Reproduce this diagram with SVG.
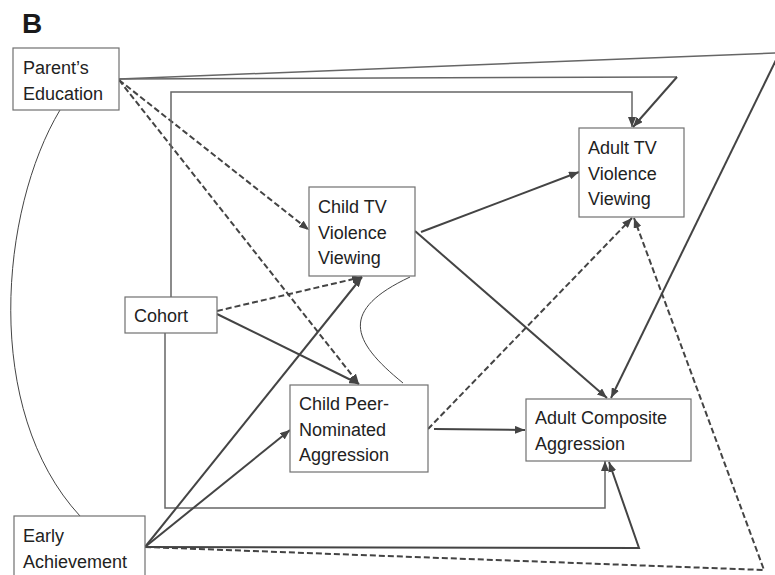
<svg xmlns="http://www.w3.org/2000/svg" width="775" height="575" viewBox="0 0 775 575">
  <style>
    .box { fill: #ffffff; stroke: #707070; stroke-width: 1.2; }
    .lbl { font-family: "Liberation Sans", Arial, sans-serif; font-size: 18px; fill: #222; }
    .title { font-family: "Liberation Sans", Arial, sans-serif; font-size: 28px; font-weight: bold; fill: #1a1a1a; }
    .path { fill: none; stroke: #444; stroke-width: 2; }
    .dash { fill: none; stroke: #444; stroke-width: 2; stroke-dasharray: 6 3; }
    .frame { fill: none; stroke: #666; stroke-width: 1.5; }
    .corr { fill: none; stroke: #444; stroke-width: 1; }
  </style>
  <defs>
    <marker id="arr" viewBox="0 0 10 8" refX="10" refY="4" markerWidth="10" markerHeight="8" markerUnits="userSpaceOnUse" orient="auto">
      <path d="M0,0 L10,4 L0,8 Z" fill="#444"/>
    </marker>
  </defs>
  <rect width="775" height="575" fill="#ffffff"/>

  <text class="title" x="22" y="33">B</text>

  <g id="connectors">
    <!-- correlations -->
    <path class="corr" d="M60,110 C0,210 -18,410 80,516"/>
    <path class="corr" d="M410,277 C340,310 350,340 403,383"/>

    <!-- Parent's Education -->
    <line class="frame" x1="119" y1="79" x2="779.5" y2="52.8"/>
    <line class="path" x1="779.5" y1="52.8" x2="611" y2="398" marker-end="url(#arr)"/>
    <line class="frame" x1="119" y1="79" x2="677" y2="77"/>
    <path class="path" d="M677,77 L633,127" marker-end="url(#arr)"/>
    <line class="dash" x1="119" y1="80" x2="309" y2="230" marker-end="url(#arr)"/>
    <line class="dash" x1="119" y1="80" x2="359" y2="384" marker-end="url(#arr)"/>

    <!-- Cohort -->
    <polyline class="frame" points="171,297 171,92 632,92 632,127" marker-end="url(#arr)"/>
    <polyline class="frame" points="165,333 165,508 605,508 605,461" marker-end="url(#arr)"/>
    <line class="dash" x1="217" y1="311" x2="362" y2="277" marker-end="url(#arr)"/>
    <line class="path" x1="217" y1="314" x2="359" y2="384" marker-end="url(#arr)"/>

    <!-- Child TV Violence Viewing -->
    <line class="path" x1="421" y1="232" x2="579" y2="172" marker-end="url(#arr)"/>
    <line class="path" x1="415" y1="231" x2="607" y2="398" marker-end="url(#arr)"/>

    <!-- Child Peer-Nominated Aggression -->
    <line class="path" x1="434" y1="429" x2="525" y2="430" marker-end="url(#arr)"/>
    <line class="dash" x1="428" y1="429" x2="632" y2="218" marker-end="url(#arr)"/>

    <!-- Early Achievement -->
    <line class="path" x1="145" y1="547" x2="362" y2="277" marker-end="url(#arr)"/>
    <line class="path" x1="145" y1="547" x2="290" y2="430" marker-end="url(#arr)"/>
    <polyline class="path" points="145,547 639,548 609,462" marker-end="url(#arr)"/>
    <polyline class="dash" points="145,547 764,570 634,218" marker-end="url(#arr)"/>
  </g>

  <g id="parents-education">
    <rect class="box" x="13" y="48" width="106" height="62"/>
    <text class="lbl" x="23" y="74">Parent’s</text>
    <text class="lbl" x="23" y="100">Education</text>
  </g>

  <g id="cohort">
    <rect class="box" x="125" y="297" width="92" height="36"/>
    <text class="lbl" x="134" y="322">Cohort</text>
  </g>

  <g id="child-tv">
    <rect class="box" x="309" y="187" width="106" height="89"/>
    <text class="lbl" x="318" y="213">Child TV</text>
    <text class="lbl" x="318" y="239">Violence</text>
    <text class="lbl" x="318" y="264">Viewing</text>
  </g>

  <g id="adult-tv">
    <rect class="box" x="579" y="128" width="105" height="89"/>
    <text class="lbl" x="588" y="154">Adult TV</text>
    <text class="lbl" x="588" y="180">Violence</text>
    <text class="lbl" x="588" y="205">Viewing</text>
  </g>

  <g id="child-peer">
    <rect class="box" x="290" y="385" width="138" height="87"/>
    <text class="lbl" x="299" y="410">Child Peer-</text>
    <text class="lbl" x="299" y="436">Nominated</text>
    <text class="lbl" x="299" y="461">Aggression</text>
  </g>

  <g id="adult-composite">
    <rect class="box" x="526" y="399" width="165" height="62"/>
    <text class="lbl" x="535" y="424">Adult Composite</text>
    <text class="lbl" x="535" y="450">Aggression</text>
  </g>

  <g id="early-achievement">
    <rect class="box" x="14" y="516" width="131" height="70"/>
    <text class="lbl" x="23" y="542">Early</text>
    <text class="lbl" x="23" y="568">Achievement</text>
  </g>
</svg>
